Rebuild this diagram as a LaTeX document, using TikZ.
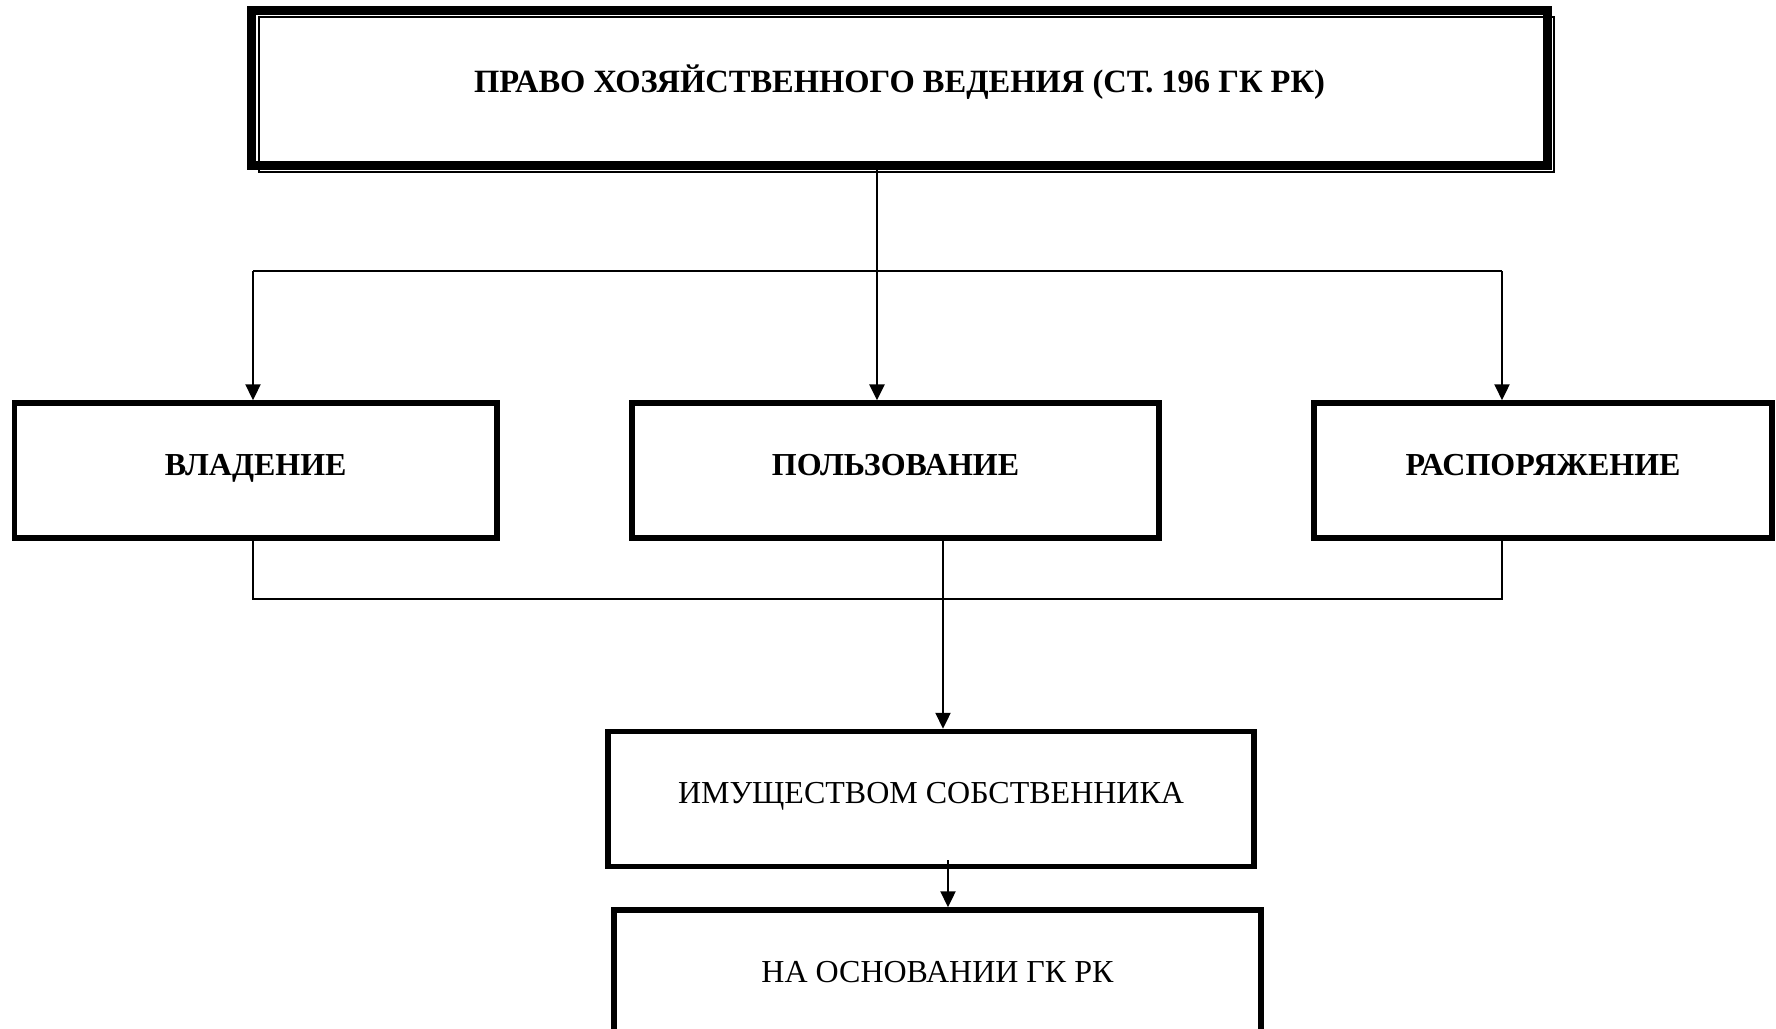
\documentclass[tikz,border=0pt]{standalone}
\usepackage{fontspec}
\setmainfont{Liberation Serif}
\usetikzlibrary{arrows.meta}
\begin{document}
\begin{tikzpicture}[x=1pt,y=-1pt,
  box/.style={draw, line width=5.5pt, minimum height=135pt, inner sep=0pt,
    text height=22pt, text depth=13pt, align=center,
    font=\fontsize{32}{38}\selectfont\bfseries},
  regular/.style={font=\fontsize{32}{38}\selectfont},
  topbox/.style={box, line width=9pt, minimum height=155pt,
    font=\fontsize{32.5}{38}\selectfont\bfseries},
  thinline/.style={line width=1.5pt},
  arr/.style={-{Triangle[width=15pt,length=16pt]}, line width=2.3pt}]
\useasboundingbox (0,0) rectangle (1776,1028);
% boxes
\node[topbox, minimum width=1296pt] (top) at (899.5,88) {ПРАВО ХОЗЯЙСТВЕННОГО ВЕДЕНИЯ (СТ. 196 ГК РК)};
\draw[line width=1.8pt] ([shift={(12,11)}]top.north west) rectangle ([shift={(2,2)}]top.south east);
\node[box, minimum width=482.5pt] (vla) at (255.75,470.5) {ВЛАДЕНИЕ};
\node[box, minimum width=527pt] (pol) at (895.5,470.5) {ПОЛЬЗОВАНИЕ};
\node[box, minimum width=458pt] (ras) at (1543,470.5) {РАСПОРЯЖЕНИЕ};
\node[box, regular, minimum width=646pt] (imu) at (931,799) {ИМУЩЕСТВОМ СОБСТВЕННИКА};
\node[box, regular, minimum width=647pt] (osn) at (937.5,977.5) {НА ОСНОВАНИИ ГК РК};
% upper connectors
\coordinate (xa) at (253,271);
\coordinate (xb) at (877,271);
\coordinate (xc) at (1502,271);
\draw[thinline] (xa) -- (xc);
\draw[arr, line width=2.7pt] (xb |- top.south) -- (xb |- pol.north);
\draw[arr] (xa) -- (xa |- vla.north);
\draw[arr] (xc) -- (xc |- ras.north);
% lower connectors
\coordinate (ya) at (253,599);
\coordinate (yb) at (943,599);
\coordinate (yc) at (1502,599);
\draw[thinline] (ya |- vla.south) -- (ya) -- (yc) -- (yc |- ras.south);
\draw[arr] (yb |- pol.south) -- (yb |- imu.north);
\coordinate (za) at (948,860);
\draw[arr] (za) -- (za |- osn.north);
\end{tikzpicture}
\end{document}
